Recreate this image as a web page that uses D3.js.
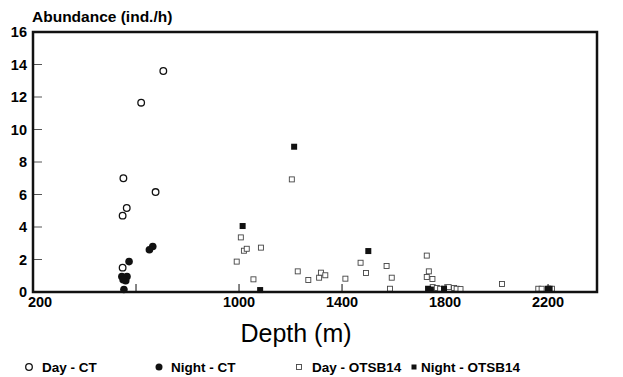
<!DOCTYPE html>
<html>
<head>
<meta charset="utf-8">
<script src="https://cdn.jsdelivr.net/npm/d3@7"></script>
<style>
  body { margin: 0; background: #fff; }
  text { font-family: "Liberation Sans", Arial, Helvetica, sans-serif; }
</style>
</head>
<body>
<svg id="chart" width="623" height="377"></svg>
<script>
// data: [depth (m), abundance (ind./h)]
const dayCT = [[706, 13.6], [620, 11.65], [551, 7.0], [676, 6.15], [564, 5.17], [548, 4.7], [548, 1.5]];
const nightCT = [[665, 2.8], [652, 2.6], [573, 1.87], [545, 0.95], [555, 0.8], [565, 0.95],
  [560, 0.7], [550, 0.75], [553, 0.15]];
const dayOTSB = [[1205, 6.93], [1007, 3.36], [1019, 2.54], [1030, 2.66], [1085, 2.73], [991, 1.87],
  [1056, 0.78], [1228, 1.27], [1269, 0.74], [1311, 0.88], [1318, 1.19], [1335, 1.03], [1413, 0.82],
  [1472, 1.8], [1493, 1.17], [1573, 1.6], [1593, 0.88], [1586, 0.2], [1729, 2.24], [1737, 1.27],
  [1729, 0.92], [1751, 0.8], [1752, 0.3], [1768, 0.25], [1781, 0.2], [1814, 0.3], [1835, 0.25],
  [1845, 0.2], [1860, 0.18], [2021, 0.49], [2162, 0.2], [2175, 0.2], [2215, 0.2]];
const nightOTSB = [[1214, 8.94], [1014, 4.06], [1082, 0.12], [1502, 2.52], [1734, 0.2], [1745, 0.15],
  [1796, 0.2], [2199, 0.2], [2206, 0.2]];
const yTicks = [0, 2, 4, 6, 8, 10, 12, 14, 16];
const xTicks = [200, 600, 1000, 1400, 1800, 2200];
const xLabels = [200, 1000, 1400, 1800, 2200];
const legendItems = ['Day - CT', 'Night - CT', 'Day - OTSB14', 'Night - OTSB14'];

const svg = d3.select('#chart');
const plotL = 33, plotR = 597, plotT = 32, plotB = 292;

const x = d3.scaleLinear().domain([200, 2390]).range([plotL, plotR]);
const y = d3.scaleLinear().domain([0, 16]).range([plotB, plotT]);

// ticks, inward
svg.append('g').selectAll('line').data(yTicks.slice(1, -1)).enter().append('line')
  .attr('x1', plotL).attr('x2', plotL + 9)
  .attr('y1', d => y(d)).attr('y2', d => y(d))
  .attr('stroke', '#555').attr('stroke-width', 1);
svg.append('g').selectAll('line').data(xTicks.slice(1)).enter().append('line')
  .attr('x1', d => x(d)).attr('x2', d => x(d))
  .attr('y1', plotB).attr('y2', plotB - 8)
  .attr('stroke', '#333').attr('stroke-width', 1.2);

// tick labels
svg.append('g').selectAll('text').data(yTicks).enter().append('text')
  .attr('x', 27).attr('y', d => y(d) + 5)
  .attr('text-anchor', 'end').attr('font-size', 14.5).attr('font-weight', 'bold')
  .text(d => d);
svg.append('g').selectAll('text').data(xLabels).enter().append('text')
  .attr('x', d => x(d) + (d === 200 ? 7 : 0)).attr('y', 307)
  .attr('text-anchor', 'middle').attr('font-size', 14.5).attr('font-weight', 'bold')
  .text(d => d);

svg.append('text').attr('x', 32).attr('y', 22)
  .attr('font-size', 15.5).attr('font-weight', 'bold').text('Abundance (ind./h)');
svg.append('text').attr('x', 296).attr('y', 342).attr('text-anchor', 'middle')
  .attr('font-size', 25).text('Depth (m)');

// points
const g = svg.append('g');
g.selectAll('.dsq').data(dayOTSB).enter().append('rect')
  .attr('x', d => x(d[0]) - 2.5).attr('y', d => y(d[1]) - 2.5)
  .attr('width', 5).attr('height', 5)
  .attr('fill', '#fff').attr('stroke', '#444').attr('stroke-width', 0.9);
g.selectAll('.nsq').data(nightOTSB).enter().append('rect')
  .attr('x', d => x(d[0]) - 3).attr('y', d => y(d[1]) - 3)
  .attr('width', 6).attr('height', 6).attr('fill', '#111');
g.selectAll('.dc').data(dayCT).enter().append('circle')
  .attr('cx', d => x(d[0])).attr('cy', d => y(d[1])).attr('r', 3.3)
  .attr('fill', 'none').attr('stroke', '#111').attr('stroke-width', 1.3);
g.selectAll('.nc').data(nightCT).enter().append('circle')
  .attr('cx', d => x(d[0])).attr('cy', d => y(d[1])).attr('r', 3.8)
  .attr('fill', '#111');

// frame
svg.append('rect').attr('x', plotL).attr('y', plotT)
  .attr('width', plotR - plotL).attr('height', plotB - plotT)
  .attr('fill', 'none').attr('stroke', '#111').attr('stroke-width', 2.5);

// legend
const lg = svg.append('g');
const lx = [29, 159, 299, 414];
const tx = [42, 171, 312, 421];
lg.append('circle').attr('cx', lx[0]).attr('cy', 367).attr('r', 3.3)
  .attr('fill', 'none').attr('stroke', '#111').attr('stroke-width', 1.3);
lg.append('circle').attr('cx', lx[1]).attr('cy', 367).attr('r', 3.5).attr('fill', '#111');
lg.append('rect').attr('x', lx[2] - 2.5).attr('y', 364.5).attr('width', 5).attr('height', 5)
  .attr('fill', '#fff').attr('stroke', '#444').attr('stroke-width', 0.9);
lg.append('rect').attr('x', lx[3] - 2.5).attr('y', 364.5).attr('width', 5).attr('height', 5)
  .attr('fill', '#111');
lg.selectAll('text').data(legendItems).enter().append('text')
  .attr('x', (d, i) => tx[i]).attr('y', 372)
  .attr('font-size', 13.5).attr('font-weight', 'bold')
  .text(d => d);
</script>
</body>
</html>
